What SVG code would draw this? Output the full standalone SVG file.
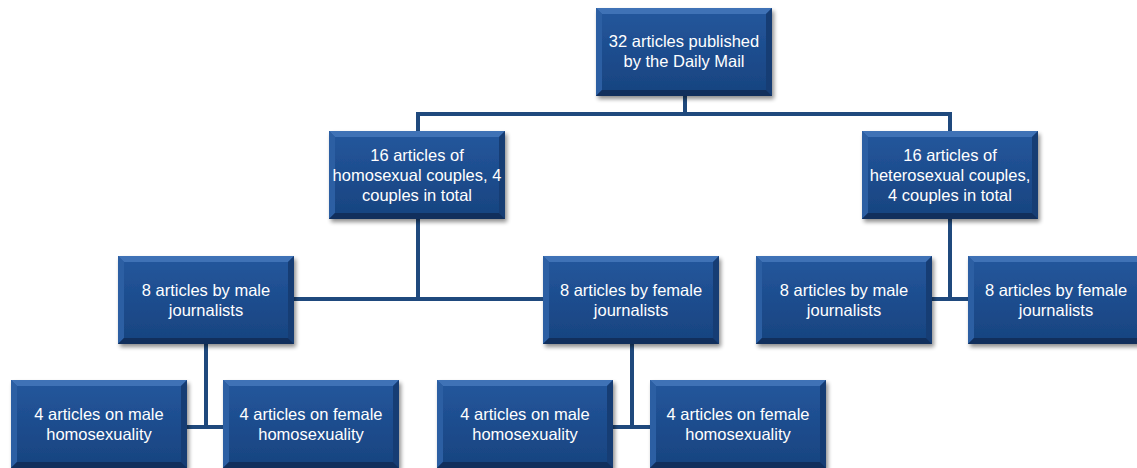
<svg xmlns="http://www.w3.org/2000/svg" xmlns:xlink="http://www.w3.org/1999/xlink" width="1137" height="468" viewBox="0 0 1137 468">
<style>
.t{font-family:"Liberation Sans",Arial,sans-serif;font-size:16.5px;fill:#ffffff;text-anchor:middle}
.c{stroke:#1F497D;stroke-width:4;fill:none}
</style>
<defs>
<linearGradient id="face" x1="0" y1="0" x2="0" y2="1">
<stop offset="0" stop-color="#24579d"/>
<stop offset="1" stop-color="#17437f"/>
</linearGradient>
<filter id="sh" x="-10%" y="-10%" width="130%" height="130%">
<feGaussianBlur in="SourceAlpha" stdDeviation="2"/>
<feOffset dx="2" dy="3"/>
<feComponentTransfer><feFuncA type="linear" slope="0.45"/></feComponentTransfer>
<feMerge><feMergeNode/><feMergeNode in="SourceGraphic"/></feMerge>
</filter>
<g id="box">
<rect x="0" y="0" width="176" height="88" fill="url(#face)" filter="url(#sh)"/>
<polygon points="0,0 176,0 170,6 6,6" fill="#3f72b6"/>
<polygon points="0,0 6,6 6,82 0,88" fill="#2c5fa3"/>
<polygon points="176,0 176,88 170,82 170,6" fill="#163d74"/>
<polygon points="0,88 6,82 170,82 176,88" fill="#112f5c"/>
</g>
</defs>
<g id="connectors">
<path class="c" d="M685,95 V114 M418,114 H952 M418,112 V131 M950,112 V131"/>
<path class="c" d="M418,219 V299 M294,299 H543"/>
<path class="c" d="M950,219 V299 M932,299 H968"/>
<path class="c" d="M206,343 V427 M187,427 H223"/>
<path class="c" d="M632,343 V427 M613,427 H650"/>
</g>
<g id="n1"><use xlink:href="#box" x="596" y="8"/><text class="t" x="684" y="47">32 articles published</text><text class="t" x="684" y="67">by the Daily Mail</text></g>
<g id="n2"><use xlink:href="#box" x="329" y="131"/><text class="t" x="417" y="161">16 articles of</text><text class="t" x="417" y="181">homosexual couples, 4</text><text class="t" x="417" y="201">couples in total</text></g>
<g id="n3"><use xlink:href="#box" x="862" y="131"/><text class="t" x="950" y="161">16 articles of</text><text class="t" x="950" y="181">heterosexual couples,</text><text class="t" x="950" y="201">4 couples in total</text></g>
<g id="n4"><use xlink:href="#box" x="118" y="256"/><text class="t" x="206" y="296">8 articles by male</text><text class="t" x="206" y="316">journalists</text></g>
<g id="n5"><use xlink:href="#box" x="543" y="256"/><text class="t" x="631" y="296">8 articles by female</text><text class="t" x="631" y="316">journalists</text></g>
<g id="n6"><use xlink:href="#box" x="756" y="256"/><text class="t" x="844" y="296">8 articles by male</text><text class="t" x="844" y="316">journalists</text></g>
<g id="n7"><use xlink:href="#box" x="968" y="256"/><text class="t" x="1056" y="296">8 articles by female</text><text class="t" x="1056" y="316">journalists</text></g>
<g id="n8"><use xlink:href="#box" x="11" y="380"/><text class="t" x="99" y="420">4 articles on male</text><text class="t" x="99" y="440">homosexuality</text></g>
<g id="n9"><use xlink:href="#box" x="223" y="380"/><text class="t" x="311" y="420">4 articles on female</text><text class="t" x="311" y="440">homosexuality</text></g>
<g id="n10"><use xlink:href="#box" x="437" y="380"/><text class="t" x="525" y="420">4 articles on male</text><text class="t" x="525" y="440">homosexuality</text></g>
<g id="n11"><use xlink:href="#box" x="650" y="380"/><text class="t" x="738" y="420">4 articles on female</text><text class="t" x="738" y="440">homosexuality</text></g>
</svg>
